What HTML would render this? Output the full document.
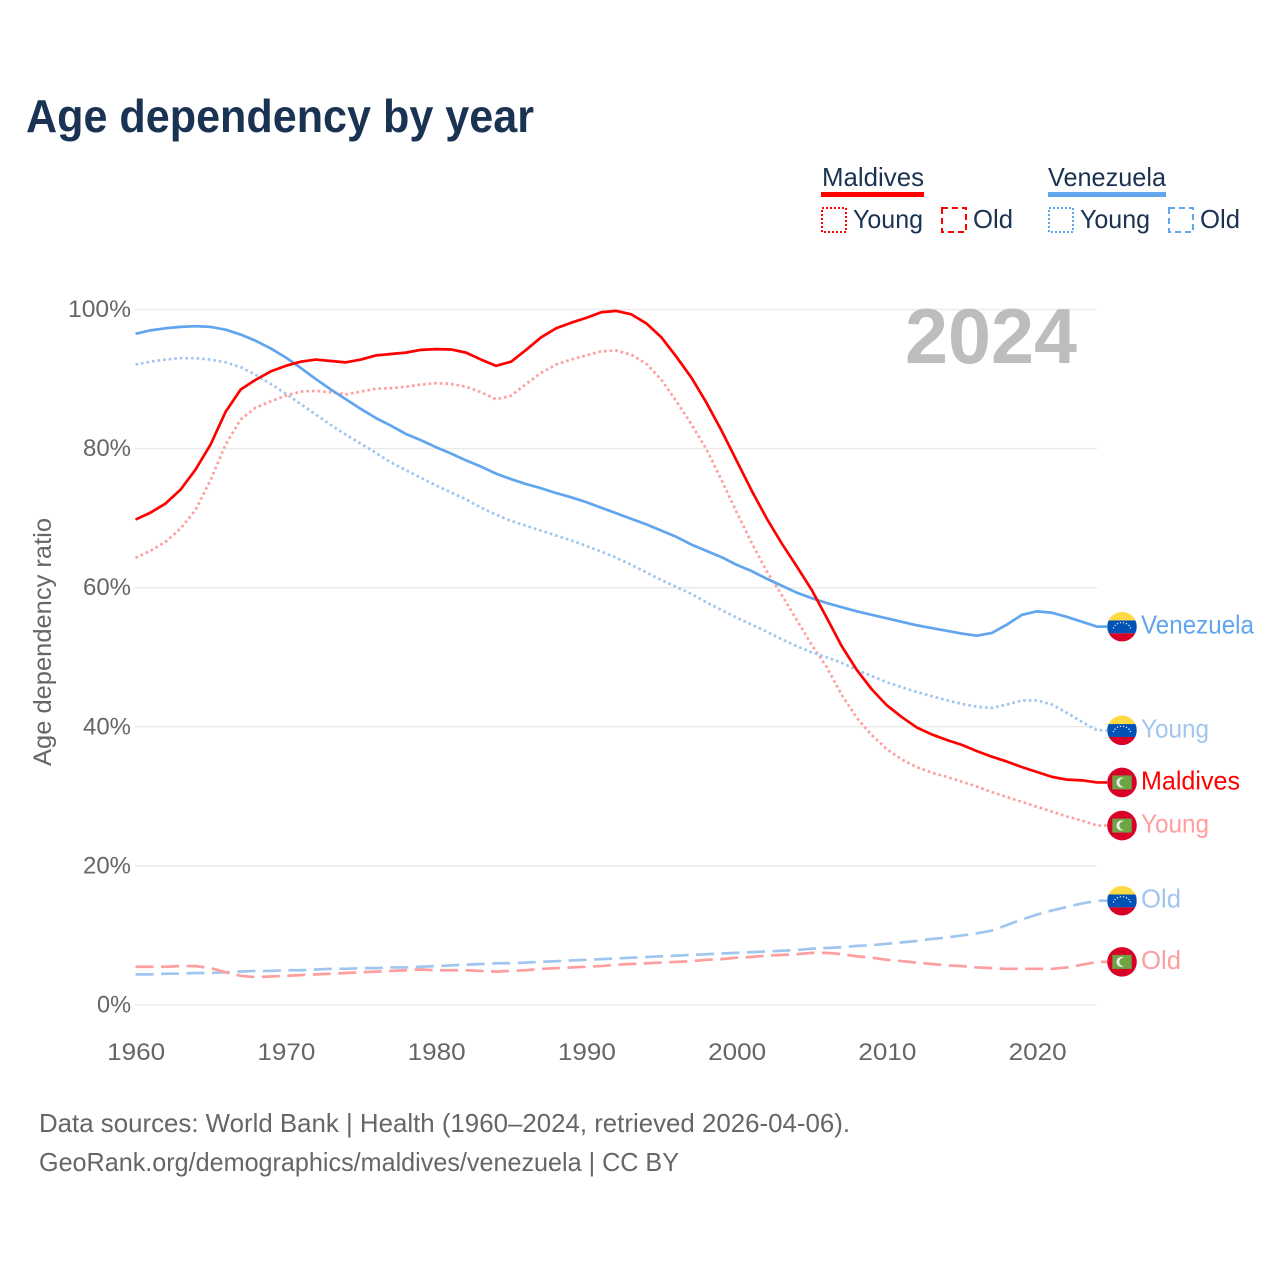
<!DOCTYPE html>
<html lang="en">
<head>
<meta charset="utf-8">
<title>Age dependency by year</title>
<style>
html,body{margin:0;padding:0;background:#fff;width:1280px;height:1280px;overflow:hidden}
svg{display:block}
text{font-family:"Liberation Sans",sans-serif}
</style>
</head>
<body>
<svg id="chart" xmlns="http://www.w3.org/2000/svg" width="1280" height="1280" viewBox="0 0 1280 1280">
  <text x="26" y="132" font-size="46" font-weight="700" fill="#1a3353" textLength="508" lengthAdjust="spacingAndGlyphs">Age dependency by year</text>

  <g>
    <text x="822" y="186" font-size="26" fill="#1a3353" textLength="102" lengthAdjust="spacingAndGlyphs">Maldives</text>
    <rect x="821" y="192" width="103" height="5" fill="#ff0000"/>
    <rect x="822" y="208" width="24" height="24" fill="none" stroke="#ff0000" stroke-width="2" stroke-dasharray="2 2"/>
    <text x="853" y="228" font-size="26" fill="#1a3353" textLength="70" lengthAdjust="spacingAndGlyphs">Young</text>
    <rect x="942" y="208" width="24" height="24" fill="none" stroke="#ff0000" stroke-width="2" stroke-dasharray="6 4"/>
    <text x="973" y="228" font-size="26" fill="#1a3353" textLength="40" lengthAdjust="spacingAndGlyphs">Old</text>
    <text x="1048" y="186" font-size="26" fill="#1a3353" textLength="118" lengthAdjust="spacingAndGlyphs">Venezuela</text>
    <rect x="1048" y="192" width="118" height="5" fill="#60a5ee"/>
    <rect x="1049" y="208" width="24" height="24" fill="none" stroke="#60a5ee" stroke-width="2" stroke-dasharray="2 2"/>
    <text x="1080" y="228" font-size="26" fill="#1a3353" textLength="70" lengthAdjust="spacingAndGlyphs">Young</text>
    <rect x="1169" y="208" width="24" height="24" fill="none" stroke="#60a5ee" stroke-width="2" stroke-dasharray="6 4"/>
    <text x="1200" y="228" font-size="26" fill="#1a3353" textLength="40" lengthAdjust="spacingAndGlyphs">Old</text>
  </g>

  <text transform="translate(51,642) rotate(-90)" text-anchor="middle" font-size="25" fill="#666666" textLength="248" lengthAdjust="spacingAndGlyphs">Age dependency ratio</text>

  <g id="grid"></g>
  <g id="yticks"></g>
  <g id="xticks"></g>

  <text x="905" y="363" font-size="78" font-weight="700" fill="#bdbdbd" textLength="172" lengthAdjust="spacingAndGlyphs">2024</text>

  <g id="series"></g>
  <g id="endlabels"></g>

  <text x="39" y="1132" font-size="26" fill="#666666" textLength="811" lengthAdjust="spacingAndGlyphs">Data sources: World Bank | Health (1960–2024, retrieved 2026-04-06).</text>
  <text x="39" y="1171" font-size="26" fill="#666666" textLength="640" lengthAdjust="spacingAndGlyphs">GeoRank.org/demographics/maldives/venezuela | CC BY</text>
</svg>
<script>
const startYear = 1960;
const xTickYears = [1960, 1970, 1980, 1990, 2000, 2010, 2020];
const yTickValues = [0, 20, 40, 60, 80, 100];

const venezuelaTotal = [
  96.5,97.0,97.3,97.5,97.6,97.5,97.1,96.4,95.5,94.4,
  93.1,91.6,90.0,88.5,87.1,85.7,84.4,83.3,82.1,81.2,
  80.2,79.3,78.3,77.4,76.4,75.6,74.9,74.3,73.6,73.0,
  72.3,71.5,70.7,69.9,69.1,68.2,67.3,66.2,65.3,64.4,
  63.3,62.4,61.3,60.3,59.3,58.5,57.8,57.2,56.6,56.1,
  55.6,55.1,54.6,54.2,53.8,53.4,53.1,53.5,54.7,56.1,
  56.6,56.4,55.8,55.1,54.4
];
const venezuelaYoung = [
  92.1,92.5,92.8,93.0,93.0,92.8,92.4,91.7,90.6,89.3,
  87.9,86.4,84.9,83.4,82.0,80.7,79.4,78.0,76.9,75.8,
  74.7,73.7,72.7,71.5,70.5,69.6,68.9,68.2,67.5,66.8,
  66.0,65.2,64.3,63.3,62.2,61.1,60.1,59.1,57.9,56.8,
  55.7,54.7,53.7,52.6,51.6,50.7,50.0,49.2,48.2,47.3,
  46.4,45.7,45.0,44.4,43.8,43.3,42.9,42.7,43.2,43.8,
  43.8,43.2,42.0,40.7,39.5
];
const venezuelaOld = [
  4.4,4.4,4.5,4.5,4.6,4.6,4.7,4.8,4.9,4.9,
  5.0,5.0,5.1,5.2,5.2,5.3,5.3,5.4,5.4,5.5,
  5.6,5.7,5.8,5.9,6.0,6.0,6.1,6.2,6.3,6.4,
  6.5,6.6,6.7,6.8,6.9,7.0,7.1,7.2,7.3,7.4,
  7.5,7.6,7.7,7.8,7.9,8.1,8.2,8.3,8.5,8.6,
  8.8,9.0,9.2,9.5,9.7,10.0,10.3,10.7,11.5,12.3,
  13.0,13.6,14.1,14.6,15.0
];
const maldivesTotal = [
  69.8,70.8,72.1,74.1,77.0,80.6,85.3,88.5,89.9,91.1,
  91.9,92.5,92.8,92.6,92.4,92.8,93.4,93.6,93.8,94.2,
  94.3,94.25,93.8,92.8,91.9,92.5,94.2,96.0,97.3,98.1,
  98.8,99.6,99.8,99.3,98.0,96.0,93.2,90.2,86.6,82.6,
  78.3,74.0,70.0,66.4,63.1,59.7,55.7,51.6,48.2,45.4,
  43.1,41.4,39.9,38.9,38.1,37.4,36.5,35.7,35.0,34.2,
  33.5,32.8,32.4,32.3,32.0
];
const maldivesYoung = [
  64.3,65.3,66.6,68.5,71.2,75.5,80.6,84.2,85.9,86.8,
  87.6,88.2,88.3,88.1,87.8,88.2,88.6,88.7,88.9,89.2,
  89.4,89.3,88.9,88.1,87.1,87.6,89.3,90.9,92.1,92.8,
  93.4,94.0,94.1,93.5,92.2,89.9,86.8,83.5,79.9,75.5,
  70.9,66.5,62.4,59.0,55.4,51.8,48.6,44.6,41.3,38.8,
  36.8,35.3,34.2,33.4,32.8,32.1,31.4,30.6,29.9,29.2,
  28.5,27.8,27.1,26.5,25.8
];
const maldivesOld = [
  5.5,5.5,5.5,5.6,5.6,5.3,4.7,4.2,4.0,4.1,
  4.2,4.3,4.4,4.5,4.6,4.7,4.8,4.9,5.0,5.1,
  5.0,5.0,5.0,4.9,4.8,4.9,5.0,5.2,5.3,5.4,
  5.5,5.6,5.8,5.9,6.0,6.1,6.2,6.3,6.5,6.6,
  6.8,6.9,7.1,7.2,7.3,7.5,7.5,7.3,7.0,6.8,
  6.5,6.3,6.1,5.9,5.7,5.6,5.4,5.3,5.2,5.2,
  5.2,5.2,5.4,5.8,6.2
];

const NS = 'http://www.w3.org/2000/svg';
const xScale = year => 135.5 + (year - 1960) * 15.025;
const yScale = value => 1005 - value * 6.955;
const plotLeft = 135;
const plotRight = 1097;

function make(tag, attrs, parent) {
  const el = document.createElementNS(NS, tag);
  for (const k in attrs) el.setAttribute(k, attrs[k]);
  parent.appendChild(el);
  return el;
}

const gridGroup = document.getElementById('grid');
const yTickGroup = document.getElementById('yticks');
const xTickGroup = document.getElementById('xticks');
const seriesGroup = document.getElementById('series');
const labelGroup = document.getElementById('endlabels');

yTickValues.forEach(v => {
  const line = make('line', {x1: plotLeft, x2: plotRight, y1: yScale(v), y2: yScale(v), stroke: '#ebebeb', 'stroke-width': 1.5}, gridGroup);
  
  
  const label = make('text', {x: 131, y: yScale(v) + 7.5, 'text-anchor': 'end', 'font-size': 24, fill: '#666666', textLength: v === 100 ? 63 : (v === 0 ? 34 : 48), lengthAdjust: 'spacingAndGlyphs'}, yTickGroup);
  label.textContent = v + '%';
  
  
});

xTickYears.forEach(y => {
  const label = make('text', {x: xScale(y) + 0.7, y: 1060, 'text-anchor': 'middle', 'font-size': 24, fill: '#666666', textLength: 58, lengthAdjust: 'spacingAndGlyphs'}, xTickGroup);
  label.textContent = y;
  
  
});

function drawSeries(values, color, dash, name) {
  const pts = values.map((v, i) => xScale(startYear + i).toFixed(2) + ',' + yScale(v).toFixed(2));
  const lastX = xScale(startYear + values.length - 1);
  pts.push((lastX + 10).toFixed(2) + ',' + yScale(values[values.length - 1]).toFixed(2));
  const line = make('polyline', {points: pts.join(' '), fill: 'none', stroke: color, 'stroke-width': 2.7, 'stroke-linejoin': 'round'}, seriesGroup);
  if (dash) line.setAttribute('stroke-dasharray', dash);
  
  
}

const DOT = '2.6 3';
const DASH = '18 7.5';
drawSeries(venezuelaOld, '#a0c6f0', DASH, 'line-venezuela-old');
drawSeries(maldivesOld, '#ff9e9e', DASH, 'line-maldives-old');
drawSeries(maldivesYoung, '#ff9e9e', DOT, 'line-maldives-young');
drawSeries(venezuelaYoung, '#a0c6f0', DOT, 'line-venezuela-young');
drawSeries(venezuelaTotal, '#60a5ee', null, 'line-venezuela-total');
drawSeries(maldivesTotal, '#ff0000', null, 'line-maldives-total');

function venezuelaFlag(cx, cy, parent) {
  const g = make('g', {}, parent);
  
  
  const r = 14.8;
  const id = 'clip' + Math.round(cy);
  const clip = make('clipPath', {id: id}, g);
  make('circle', {cx: cx, cy: cy, r: r}, clip);
  const inner = make('g', {'clip-path': 'url(#' + id + ')'}, g);
  make('rect', {x: cx - r, y: cy - r, width: 2 * r, height: 8.6, fill: '#ffda44'}, inner);
  make('rect', {x: cx - r, y: cy - r + 8.6, width: 2 * r, height: 12.9, fill: '#0052b4'}, inner);
  make('rect', {x: cx - r, y: cy - r + 21.5, width: 2 * r, height: 8.1, fill: '#d80027'}, inner);
  for (let a = -70; a <= 70; a += 20) {
    make('circle', {cx: cx + 9 * Math.sin(a * Math.PI / 180), cy: cy + 4 - 8 * Math.cos(a * Math.PI / 180), r: 0.7, fill: '#f0f0f0'}, inner);
  }
}

function maldivesFlag(cx, cy, parent) {
  const g = make('g', {}, parent);
  
  
  make('circle', {cx: cx, cy: cy, r: 14.8, fill: '#d80027'}, g);
  make('rect', {x: cx - 9.7, y: cy - 7, width: 19.4, height: 14, fill: '#6da544'}, g);
  make('circle', {cx: cx - 0.5, cy: cy, r: 5, fill: '#f0f0f0'}, g);
  make('circle', {cx: cx + 1.6, cy: cy, r: 4.3, fill: '#6da544'}, g);
}

function endLabel(values, text, color, width, flag, name) {
  const y = yScale(values[values.length - 1]);
  flag(1122, y, labelGroup);
  const label = make('text', {x: 1141, y: y + 7, 'font-size': 26, fill: color, textLength: width, lengthAdjust: 'spacingAndGlyphs'}, labelGroup);
  label.textContent = text;
  
  
}

endLabel(venezuelaTotal, 'Venezuela', '#60a5ee', 113, venezuelaFlag, 'end-label-venezuela');
endLabel(venezuelaYoung, 'Young', '#a0c6f0', 68, venezuelaFlag, 'end-label-venezuela-young');
endLabel(maldivesTotal, 'Maldives', '#ff0000', 99, maldivesFlag, 'end-label-maldives');
endLabel(maldivesYoung, 'Young', '#ff9e9e', 68, maldivesFlag, 'end-label-maldives-young');
endLabel(venezuelaOld, 'Old', '#a0c6f0', 40, venezuelaFlag, 'end-label-venezuela-old');
endLabel(maldivesOld, 'Old', '#ff9e9e', 40, maldivesFlag, 'end-label-maldives-old');
</script>
</body>
</html>
